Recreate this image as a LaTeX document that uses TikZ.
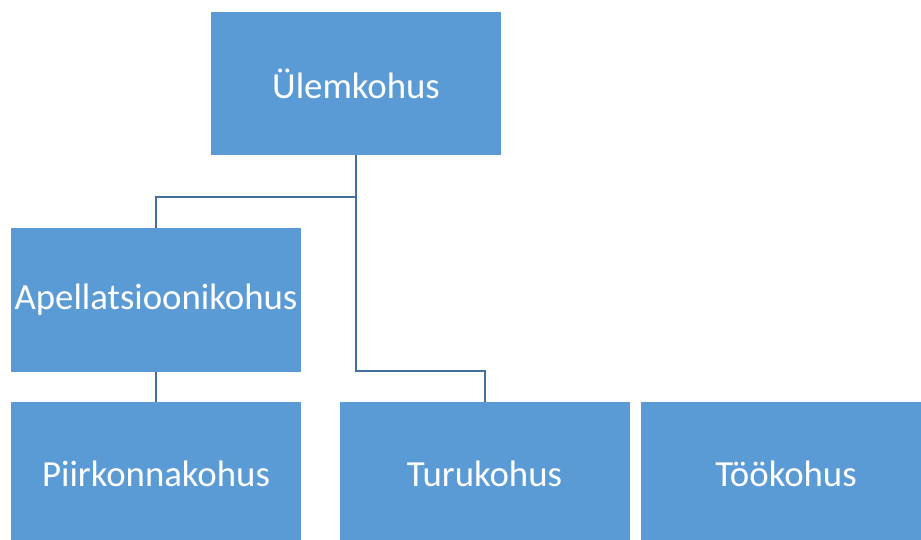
\documentclass[tikz,border=0pt]{standalone}
\usepackage{fontspec}
\setmainfont{Carlito}
\usepackage{tikz}
\definecolor{boxblue}{HTML}{5B9BD5}
\definecolor{lineblue}{HTML}{41719C}
\tikzset{
  court/.style = {shape=rectangle, fill=boxblue, text=white,
                  minimum width=290pt, minimum height=143pt,
                  inner sep=0pt, font=\fontsize{36.8}{42}\selectfont},
  link/.style  = {draw=lineblue, line width=2pt}
}
\usetikzlibrary{positioning}

\begin{document}
\begin{tikzpicture}
  [
    x = 1pt,
    y = -1pt
  ]
  \useasboundingbox (0,0) rectangle (921,540);
  \node [court] (0) at (356,83.5) {Ülemkohus};
  \node [court] (1) at (156,300) {Apellatsioonikohus};
  \node [court] (2) at (156,473.5) {Piirkonnakohus};
  \node [court] (3) at (484.5,473.5) {Turukohus};
  \node [court] (4) at (786,473.5) {Töökohus};

  \coordinate (a) at (356,197);
  \coordinate (b) at (356,371);

  \path [link]
    (0.south) -- (a) -| (1.north)
    (0.south) -- (b) -| (3.north)
    (1.south) -- (2.north);

\end{tikzpicture}
\end{document}
